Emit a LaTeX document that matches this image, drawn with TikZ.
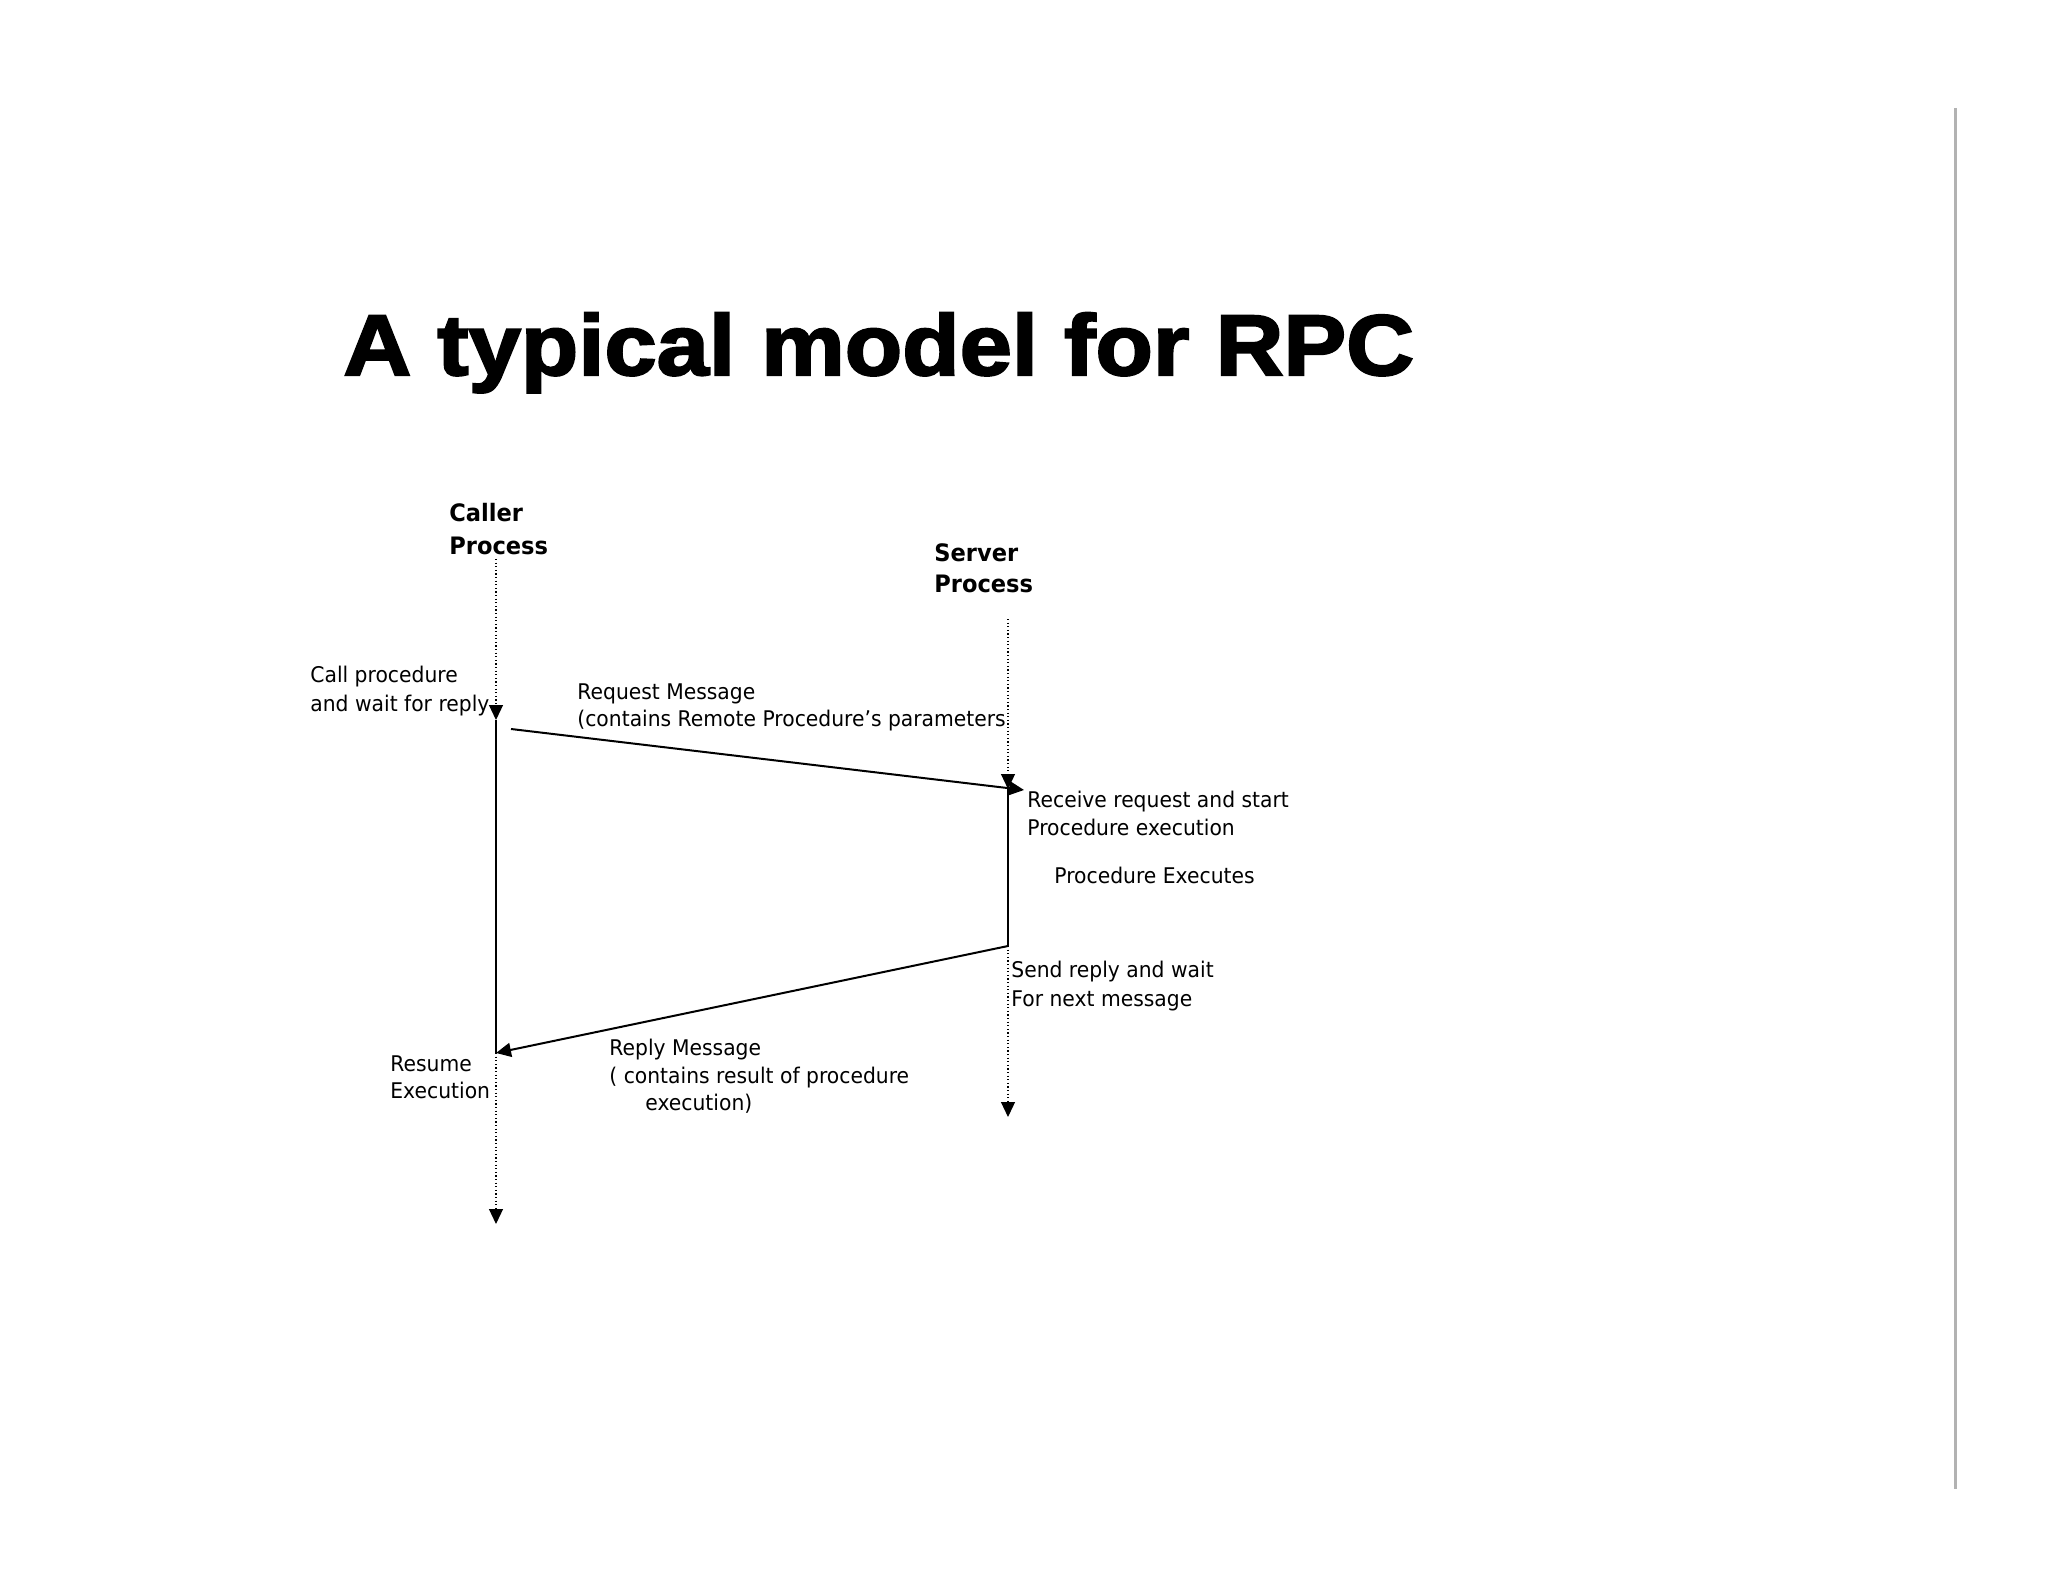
\documentclass[tikz,border=0pt]{standalone}
\usepackage{fontspec}
\usetikzlibrary{arrows.meta}
\newfontfamily\titlefont[UprightFont=* Bold,FakeBold=2.5,FakeStretch=1.093]{Liberation Sans}
\newfontfamily\bodyfont[FakeStretch=0.94]{DejaVu Sans}
\begin{document}
\begin{tikzpicture}[x=0.5pt,y=-0.5pt,
  txt/.style={anchor=base west,inner sep=0pt,font=\bodyfont\fontsize{10.8}{14}\selectfont},
  lbl/.style={anchor=base west,inner sep=0pt,font=\bodyfont\bfseries\fontsize{12}{15}\selectfont},
  ttl/.style={anchor=base west,inner sep=0pt,font=\titlefont\fontsize{43}{50}\selectfont},
  dotline/.style={line width=0.6pt,dash pattern=on 0.6pt off 1.2pt},
  solid line/.style={line width=1pt},
  tip/.style={-{Triangle[length=7.5pt,width=7pt]}}]
\useasboundingbox (0,0) rectangle (2048,1582);
% right gray rule
\coordinate (g0) at (1955,108);
\coordinate (g1) at (1955,1489);
\draw[line width=1.5pt,color=black!30] (g0) -- (g1);
% title
\node[ttl] (title) at (343,375) {A typical model for RPC};
% headings
\node[lbl] (caller1) at (449,522) {Caller};
\node[lbl] (caller2) at (449,554) {Process};
\node[lbl] (server1) at (934,561) {Server};
\node[lbl] (server2) at (934,593) {Process};
% lifeline points
\coordinate (c0) at (496,559);
\coordinate (c1) at (496,720);
\coordinate (c2) at (496,1053);
\coordinate (c3) at (496,1224);
\coordinate (s0) at (1008,619);
\coordinate (s1) at (1008,789);
\coordinate (s2) at (1008,946);
\coordinate (s3) at (1008,1117);
\coordinate (rq0) at (511,729);
\coordinate (rq1) at (1024,790);
% caller lifeline
\draw[dotline,tip] (c0) -- (c1);
\draw[solid line] (c1) -- (c2);
\draw[dotline,tip] (c2) -- (c3);
% server lifeline
\draw[dotline,tip] (s0) -- (s1);
\draw[solid line] (s1) -- (s2);
\draw[dotline,tip] (s2) -- (s3);
% messages
\draw[solid line,tip] (rq0) -- (rq1);
\draw[solid line,tip] (s2) -- (c2);
% labels
\node[txt] (call1) at (310,682) {Call procedure};
\node[txt] (call2) at (310,711) {and wait for reply};
\node[txt] (req1) at (577,699) {Request Message};
\node[txt] (req2) at (577,726) {(contains Remote Procedure’s parameters};
\node[txt] (recv1) at (1027,807) {Receive request and start};
\node[txt] (recv2) at (1027,835) {Procedure execution};
\node[txt] (exec) at (1054,883) {Procedure Executes};
\node[txt] (send1) at (1011,977) {Send reply and wait};
\node[txt] (send2) at (1011,1006) {For next message};
\node[txt] (res1) at (390,1071) {Resume};
\node[txt] (res2) at (390,1098) {Execution};
\node[txt] (rep1) at (609,1055) {Reply Message};
\node[txt] (rep2) at (609,1083) {( contains result of procedure};
\node[txt] (rep3) at (645,1110) {execution)};
\end{tikzpicture}
\end{document}
